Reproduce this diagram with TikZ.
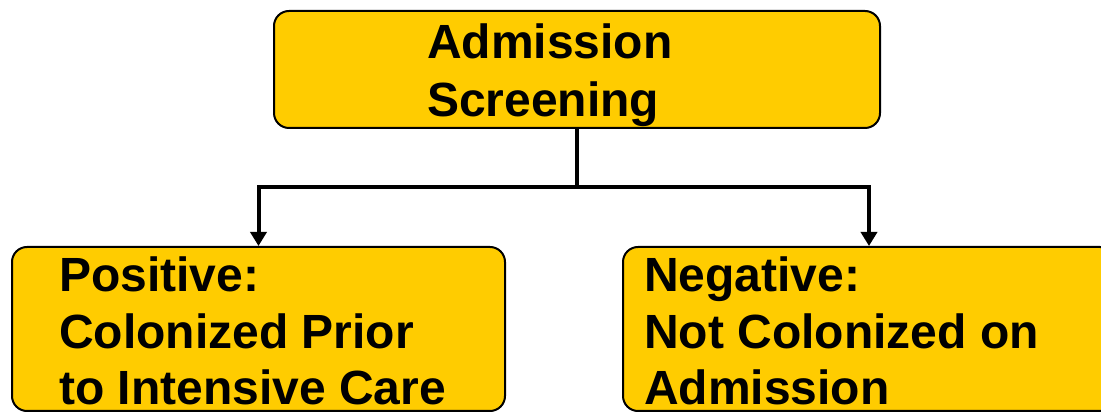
\documentclass[tikz,border=0pt]{standalone}
\usepackage{fontspec}
\setmainfont{Liberation Sans}
\usetikzlibrary{arrows.meta}
\definecolor{boxfill}{HTML}{FFCC00}
\tikzset{
  box/.style={draw=black, line width=2pt, fill=boxfill, rounded corners=15pt, inner sep=0pt},
  txt/.style={align=left, inner sep=0pt, anchor=base west},
  conn/.style={line width=4pt, -{Triangle[width=16pt,length=14pt]}, line join=miter}
}
\begin{document}
\begin{tikzpicture}[x=1pt,y=1pt]
\useasboundingbox (0,0) rectangle (1101,412);
\clip (0,0) rectangle (1101,412);
\node[box, minimum width=606pt, minimum height=117pt] (top) at (577,342.5) {};
\node[box, minimum width=493pt, minimum height=164pt] (left) at (258.5,83) {};
\node[box, minimum width=492pt, minimum height=164pt] (right) at (869,83) {};
\node[txt, font=\bfseries\fontsize{48}{58}\selectfont] (toptxt) at (427,295) {Admission\\Screening};
\node[txt, font=\bfseries\fontsize{48}{56.5}\selectfont] (lefttxt) at (59,7) {Positive:\\Colonized Prior\\to Intensive Care};
\node[txt, font=\bfseries\fontsize{48}{56.5}\selectfont] (righttxt) at (644,7) {Negative:\\Not Colonized on\\Admission};
\coordinate (j) at (577,225);
\draw[line width=4pt] (top.south) -- (j);
\draw[conn] (j) -| (left.north);
\draw[conn] (j) -| (right.north);
\end{tikzpicture}
\end{document}
